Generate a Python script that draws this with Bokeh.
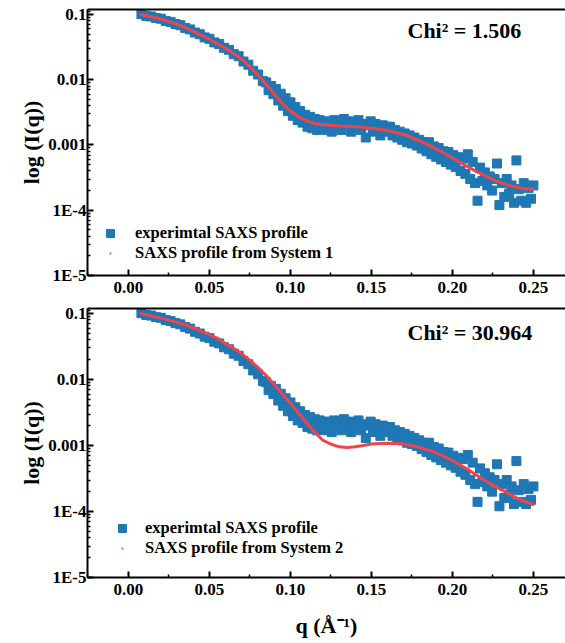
from bokeh.plotting import figure
from bokeh.models import (Range1d, FixedTicker, LinearAxis, Legend, LegendItem, Label,
                          PrintfTickFormatter, CustomJSTickFormatter)
from bokeh.layouts import column
from bokeh.embed import file_html
from bokeh.resources import INLINE

# ---------------- data ----------------
q_exp = [
    0.008, 0.011, 0.014, 0.017, 0.020, 0.023, 0.026, 0.029, 0.032, 0.035, 0.038, 0.041, 0.044,
    0.047, 0.050, 0.053, 0.056, 0.059, 0.062, 0.065, 0.068, 0.071, 0.074, 0.077, 0.080, 0.083,
    0.0850, 0.0865, 0.0880, 0.0895, 0.0910, 0.0925, 0.0940, 0.0955, 0.0970, 0.0985, 0.1000, 0.1015,
    0.1030, 0.1045, 0.1060, 0.1075, 0.1090, 0.1105, 0.1120, 0.1135, 0.1150, 0.1165, 0.1180, 0.1195,
    0.1210, 0.1225, 0.1240, 0.1255, 0.1270, 0.1285, 0.1300, 0.1315, 0.1330, 0.1345, 0.1360, 0.1375,
    0.1390, 0.1405, 0.1420, 0.1435, 0.1450, 0.1465, 0.1480, 0.1495, 0.1510, 0.1525, 0.1540, 0.1555,
    0.1570, 0.1585, 0.1600,
    0.1615, 0.1630, 0.1645, 0.1660, 0.1675, 0.1690, 0.1705, 0.1720, 0.1735, 0.1750, 0.1765, 0.1780,
    0.1795, 0.1810, 0.1825, 0.1840, 0.1855, 0.1870, 0.1885, 0.1900, 0.1915, 0.1930, 0.1945, 0.1960,
    0.1975, 0.1990, 0.2005, 0.2020, 0.2035, 0.2050, 0.2065, 0.2080, 0.2095, 0.2110, 0.2125, 0.2140,
    0.2155, 0.2170, 0.2185, 0.2200, 0.2215, 0.2230, 0.2245, 0.2260, 0.2275, 0.2290, 0.2305, 0.2320,
    0.2335, 0.2350, 0.2365, 0.2380, 0.2395, 0.2410, 0.2425, 0.2440, 0.2455, 0.2470, 0.2485, 0.2500,
]
I_exp = [
    0.1010, 0.0948, 0.0930, 0.0880, 0.0860, 0.0795, 0.0768, 0.0715, 0.0684, 0.0622, 0.0590, 0.0528, 0.0497,
    0.0445, 0.0423, 0.0373, 0.0352, 0.0308, 0.0287, 0.0246, 0.0229, 0.0190, 0.0170, 0.0137, 0.0120, 0.00950,
    0.0091, 0.0069, 0.0080, 0.0060, 0.0072, 0.0048, 0.0061, 0.0040, 0.0052, 0.0033, 0.0045, 0.0028,
    0.0038, 0.0024, 0.0033, 0.0022, 0.0029, 0.0019, 0.0027, 0.0018, 0.0025, 0.0017, 0.0024, 0.0018,
    0.0023, 0.0017, 0.0021, 0.0016, 0.0024, 0.0019, 0.0022, 0.0017, 0.0025, 0.0020, 0.0023, 0.0016,
    0.0022, 0.0019, 0.0024, 0.0017, 0.0021, 0.0013, 0.0020, 0.0023, 0.0016, 0.0021, 0.0018, 0.0014,
    0.0020, 0.0016, 0.0019,
    0.0019, 0.0014, 0.0017, 0.0013, 0.0016, 0.0012, 0.0015, 0.0011, 0.0014, 0.00105, 0.0013, 0.00098,
    0.0012, 0.00088, 0.0011, 0.00080, 0.0011, 0.00072, 0.00095, 0.00066, 0.00090, 0.00060, 0.00080, 0.00055,
    0.00078, 0.00050, 0.00070, 0.00046, 0.00065, 0.00040, 0.00062, 0.00036, 0.00072, 0.00030, 0.00055, 0.00026,
    0.00014, 0.00045, 0.00028, 0.00038, 0.00024, 0.00033, 0.00020, 0.00030, 0.00052, 0.00012, 0.00026, 0.00016,
    0.00030, 0.00018, 0.00024, 0.00013, 0.00058, 0.00021, 0.00014, 0.00026, 0.00013, 0.00022, 0.00015, 0.00024,
]

q_fit = [
    0.0075, 0.015, 0.020, 0.025, 0.030, 0.035, 0.040, 0.045, 0.050, 0.055, 0.060, 0.065, 0.070,
    0.075, 0.080, 0.085, 0.090, 0.095, 0.100, 0.105, 0.110, 0.115, 0.120, 0.125, 0.130, 0.135,
    0.140, 0.145, 0.150, 0.155, 0.160, 0.165, 0.170, 0.175, 0.180, 0.185, 0.190, 0.195, 0.200,
    0.205, 0.210, 0.215, 0.220, 0.225, 0.230, 0.235, 0.240, 0.245, 0.250,
]
I_fit_sys1 = [
    0.1000, 0.0912, 0.0851, 0.0776, 0.0708, 0.0631, 0.0550, 0.0479, 0.0417, 0.0355, 0.0302, 0.0251, 0.0204,
    0.0158, 0.0117, 0.00851, 0.00603, 0.00437, 0.00331, 0.00269, 0.00234, 0.00214, 0.00204, 0.00200, 0.00195, 0.00193,
    0.00191, 0.00186, 0.00180, 0.00174, 0.00166, 0.00155, 0.00145, 0.00129, 0.00115, 0.00100, 0.000871, 0.000741, 0.000631,
    0.000537, 0.000457, 0.000389, 0.000339, 0.000295, 0.000263, 0.000240, 0.000224, 0.000214, 0.000209,
]
I_fit_sys2 = [
    0.1000, 0.0912, 0.0851, 0.0794, 0.0733, 0.0676, 0.0603, 0.0537, 0.0479, 0.0417, 0.0347, 0.0295, 0.0245,
    0.0195, 0.0151, 0.0115, 0.00832, 0.00603, 0.00437, 0.00309, 0.00219, 0.00158, 0.00120, 0.00105, 0.000955, 0.000933,
    0.000955, 0.00100, 0.00105, 0.00107, 0.00108, 0.00107, 0.00105, 0.00100, 0.000933, 0.000851, 0.000776, 0.000676, 0.000589,
    0.000501, 0.000427, 0.000355, 0.000295, 0.000251, 0.000214, 0.000186, 0.000158, 0.000141, 0.000126,
]

chi2_values = ["1.506", "30.964"]
system_names = ["System 1", "System 2"]
exp_label = "experimtal SAXS profile"
x_ticks = [0.0, 0.05, 0.10, 0.15, 0.20, 0.25]
x_minor = [-0.025, 0.025, 0.075, 0.125, 0.175, 0.225]
y_ticks = [1e-5, 1e-4, 1e-3, 1e-2, 1e-1]
y_minor = [m * d for d in [1e-5, 1e-4, 1e-3, 1e-2] for m in range(2, 10)] + [0.11]

FONT = "Liberation Serif"
BLUE = "#1f77b4"
RED = "#f0444a"


def style_axis(ax):
    ax.axis_line_width = 2
    ax.axis_line_color = "black"
    ax.major_tick_line_width = 2
    ax.minor_tick_line_width = 1.5
    ax.major_tick_in = 6
    ax.major_tick_out = 0
    ax.minor_tick_in = 3
    ax.minor_tick_out = 0
    ax.major_label_text_font = FONT
    ax.major_label_text_font_style = "bold"
    ax.major_label_text_font_size = "17px"
    ax.major_label_text_color = "black"
    ax.axis_label_text_font = FONT
    ax.axis_label_text_font_style = "bold"
    ax.axis_label_text_font_size = "22px"
    ax.axis_label_text_color = "black"


def make_panel(I_fit, idx, height, top_b, bot_b, leg_xy, glyph_w, standoff, xlabel):
    p = figure(width=565, height=height,
               x_range=Range1d(-0.0253, 0.2698), y_range=Range1d(1e-5, 0.119),
               y_axis_type="log", output_backend="svg", toolbar_location=None,
               min_border_left=87, min_border_right=0,
               min_border_top=top_b, min_border_bottom=bot_b)
    p.outline_line_color = None
    p.xgrid.visible = False
    p.ygrid.visible = False
    p.background_fill_color = "white"
    p.border_fill_color = "white"

    xa = p.xaxis[0]
    xa.ticker = FixedTicker(ticks=x_ticks, minor_ticks=x_minor)
    xa.formatter = PrintfTickFormatter(format="%.2f")
    style_axis(xa)
    xa.major_label_standoff = 6
    if xlabel:
        xa.axis_label = xlabel
        xa.axis_label_standoff = 15

    ya = p.yaxis[0]
    ya.ticker = FixedTicker(ticks=y_ticks, minor_ticks=y_minor)
    ya.formatter = CustomJSTickFormatter(code="""
        if (tick >= 0.0009) { return String(Number(tick.toPrecision(1))); }
        return "1E" + Math.round(Math.log10(tick));
    """)
    style_axis(ya)
    ya.major_label_standoff = 1
    ya.axis_label = "log (I(q))"
    ya.axis_label_standoff = 1

    top = LinearAxis(ticker=FixedTicker(ticks=[]), major_label_text_font_size="0px",
                     major_tick_in=0, major_tick_out=0, minor_tick_in=0, minor_tick_out=0,
                     major_label_standoff=0, axis_line_width=2, axis_line_color="black")
    p.add_layout(top, "above")

    r_exp = p.scatter(q_exp, I_exp, marker="square", size=9, color=BLUE)
    r_dot = p.scatter(q_fit, I_fit, marker="dot", size=9, color=RED)
    p.line(q_fit, I_fit, line_width=3, color=RED)

    legend = Legend(items=[LegendItem(label=exp_label, renderers=[r_exp]),
                           LegendItem(label="SAXS profile from " + system_names[idx], renderers=[r_dot])],
                    location=leg_xy, orientation="vertical",
                    background_fill_alpha=0, border_line_color=None,
                    padding=0, margin=0, spacing=0,
                    glyph_width=glyph_w, glyph_height=20, label_height=20,
                    label_standoff=standoff,
                    label_text_font=FONT, label_text_font_style="bold",
                    label_text_font_size="16.5px", label_text_color="black")
    p.add_layout(legend)

    lab = Label(x=320, y=245, x_units="screen", y_units="screen",
                text="Chi\u00b2 = " + chi2_values[idx], text_font=FONT,
                text_font_style="bold", text_font_size="22px",
                text_baseline="middle", text_color="black")
    p.add_layout(lab)
    return p


p1 = make_panel(I_fit_sys1, 0, 301, 9, 26, (8, 12), 30, 10, None)
p2 = make_panel(I_fit_sys2, 1, 342, 7, 66, (20, 19), 30, 8, "q (\u00c5\u207b\u00b9)")

layout = column(p1, p2)
open("out.html", "w").write(file_html(layout, INLINE))
